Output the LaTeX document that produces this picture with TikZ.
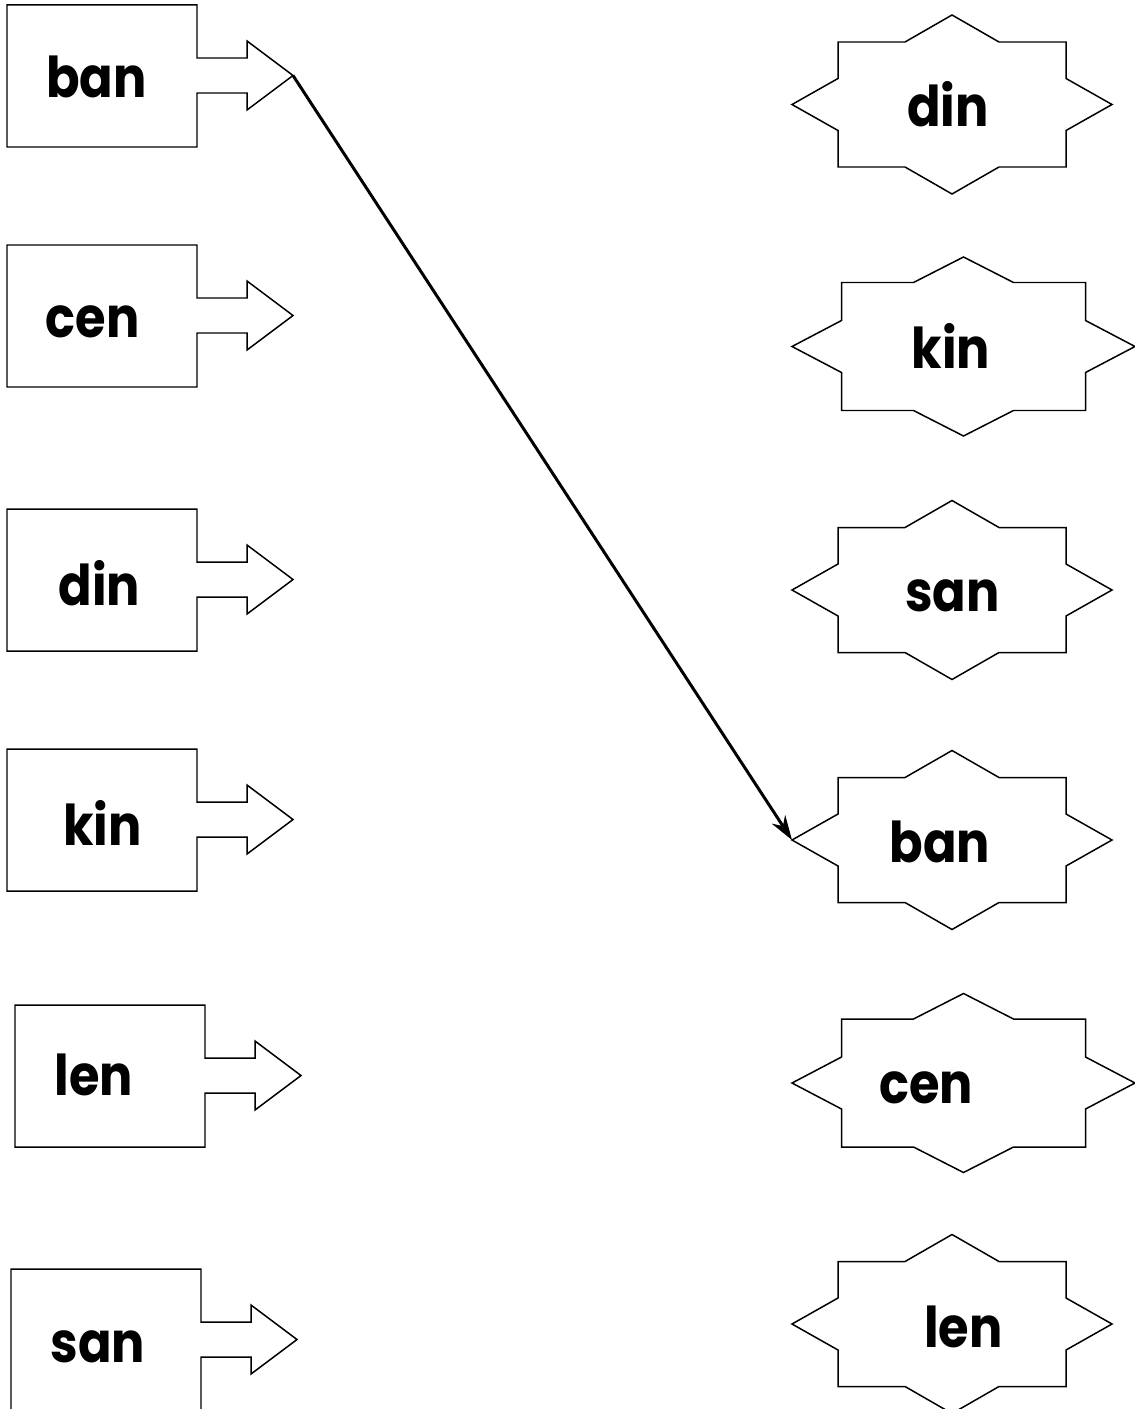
\documentclass[tikz,border=0pt]{standalone}
\usepackage{fontspec}
\newfontfamily\wordfont[FakeStretch=0.88]{Poppins}
\usetikzlibrary{arrows.meta}

\begin{document}
\begin{tikzpicture}[x=0.02cm,y=-0.02cm,
  outline/.style={draw=black,line width=0.85pt,line join=miter},
  word/.style={inner sep=0pt,anchor=base,font=\wordfont\bfseries\fontsize{32}{38}\selectfont},
  link/.style={line width=1.7pt,-{Stealth[length=14pt,width=9pt]}}]
\useasboundingbox (0,0) rectangle (1135,1409);
% left: boxes with an arrow
\foreach \w/\x/\y/\tx/\ty in {ban/7/5/96.5/98, cen/7/245/92.5/337, din/7/509/99.5/605,
    kin/7/749/102.5/845, len/15/1005/94/1095, san/11/1269/98/1362} {
  \draw[outline,shift={(\x,\y)}] (0,0) -- (190,0) -- (190,53) -- (240,53) -- (240,36)
    -- (286,70.5) -- (240,105) -- (240,88) -- (190,88) -- (190,142) -- (0,142) -- cycle;
  \coordinate (l\w-tip) at (\x+286,\y+70.5);
  \node[word] (l\w) at (\tx,\ty) {\w};
}
% right: stars
\foreach \w/\cx/\cy/\hw/\tw/\hh/\nw/\tx/\ty in {din/952/104.5/114/160/62.5/47/948/127,
    kin/963.5/346.5/122/171.5/64/50/951/368, san/952/590/114/160/62.5/47/952.5/611,
    ban/952/840/114/160/62.5/47/940/862, cen/963.5/1083/122/171.5/64/50/926/1103,
    len/952/1324/114/160/62.5/47/963.5/1347} {
  \draw[outline,shift={(\cx,\cy)}] (-\tw,0) -- (-\hw,-26) -- (-\hw,-\hh) -- (-\nw,-\hh)
    -- (0,-89.5) -- (\nw,-\hh) -- (\hw,-\hh) -- (\hw,-26) -- (\tw,0) -- (\hw,26)
    -- (\hw,\hh) -- (\nw,\hh) -- (0,89.5) -- (-\nw,\hh) -- (-\hw,\hh) -- (-\hw,26) -- cycle;
  \coordinate (r\w-in) at (\cx-\tw,\cy);
  \node[word] (r\w) at (\tx,\ty) {\w};
}
\draw[link] (lban-tip) -- (rban-in);
\end{tikzpicture}
\end{document}
